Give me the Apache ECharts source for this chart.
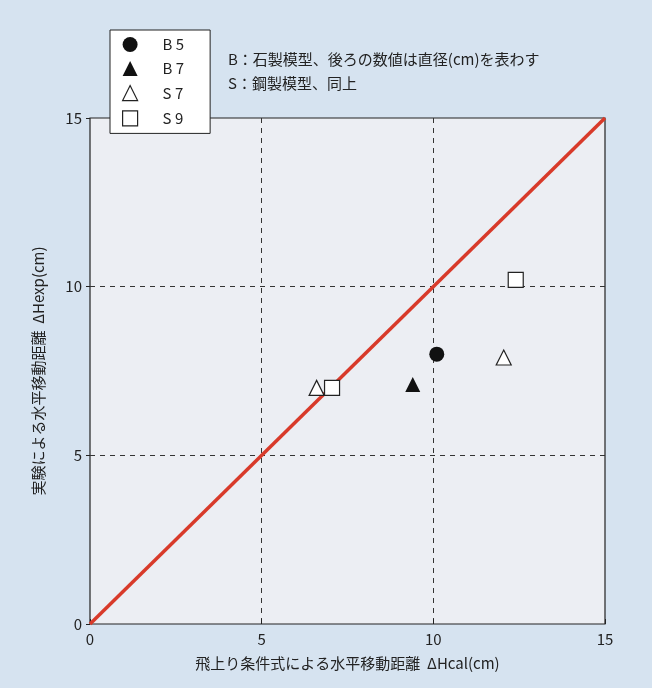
<!DOCTYPE html>
<html>
<head>
<meta charset="utf-8">
<script src="https://cdn.jsdelivr.net/npm/echarts@6/dist/echarts.min.js"></script>
<style>
html,body{margin:0;padding:0;background:#d6e3f0;}
#chart{width:652px;height:688px;}
</style>
</head>
<body>
<div id="chart"></div>
<script>
// 各データ (x: ΔHcal, y: ΔHexp)
var axisTicks = [0, 5, 10, 15];
var dataB5 = [[10.1, 8.0]];
var dataB7 = [[9.4, 7.1]];
var dataS7 = [[6.6, 7.0], [12.05, 7.9]];
var dataS9 = [[7.05, 7.0], [12.4, 10.2]];
var lineData = [[0, 0], [15, 15]];
var legendNames = ['B 5', 'B 7', 'S 7', 'S 9'];

var FONT = '"Noto Sans CJK JP", "Noto Sans", sans-serif';
var openStyle = {color: '#ffffff', borderColor: '#222', borderWidth: 1.2, opacity: 1};
var solidStyle = {color: '#111', opacity: 1};
var myChart = echarts.init(document.getElementById('chart'));
var option = {
	backgroundColor: '#d6e3f0',
	textStyle: {fontFamily: FONT},
	grid: {
		left: 90, right: 47, top: 118, bottom: 64,
		show: true,
		backgroundColor: '#eceef3',
		borderColor: '#222',
		borderWidth: 1.2
	},
	legend: {
		orient: 'vertical',
		left: 110, top: 30,
		backgroundColor: '#ffffff',
		borderColor: '#222',
		borderWidth: 1,
		borderRadius: 0,
		padding: [7, 26, 7, 12],
		itemWidth: 15, itemHeight: 15, itemGap: 9,
		textStyle: {fontSize: 15, color: '#222', fontFamily: FONT, padding: [0, 0, 0, 20]},
		data: [
			{name: legendNames[0], icon: 'circle', itemStyle: solidStyle},
			{name: legendNames[1], icon: 'triangle', itemStyle: solidStyle},
			{name: legendNames[2], icon: 'triangle', itemStyle: openStyle},
			{name: legendNames[3], icon: 'rect', itemStyle: openStyle}
		]
	},
	graphic: [
		{type: 'text', left: 228, top: 52, z: 10,
			style: {text: 'B：石製模型、後ろの数値は直径(cm)を表わす', fontSize: 15, fill: '#222', fontFamily: FONT}},
		{type: 'text', left: 228, top: 76, z: 10,
			style: {text: 'S：鋼製模型、同上', fontSize: 15, fill: '#222', fontFamily: FONT}}
	],
	xAxis: {
		type: 'value', min: axisTicks[0], max: axisTicks[3], interval: 5,
		name: '飛上り条件式による水平移動距離  ΔHcal(cm)',
		nameLocation: 'middle', nameGap: 32,
		nameTextStyle: {fontSize: 15, color: '#222'},
		axisLine: {show: false},
		axisTick: {show: true, inside: true, length: 5, lineStyle: {color: '#222'}},
		axisLabel: {fontSize: 15, color: '#222', margin: 8},
		splitLine: {show: true, showMinLine: false, showMaxLine: false,
			lineStyle: {color: '#333', type: [5, 5], width: 1}}
	},
	yAxis: {
		type: 'value', min: axisTicks[0], max: axisTicks[3], interval: 5,
		name: '実験による水平移動距離  ΔHexp(cm)',
		nameLocation: 'middle', nameGap: 44,
		nameTextStyle: {fontSize: 15, color: '#222'},
		axisLine: {show: false},
		axisTick: {show: true, inside: false, length: 4, lineStyle: {color: '#222'}},
		axisLabel: {fontSize: 15, color: '#222', margin: 8},
		splitLine: {show: true, showMinLine: false, showMaxLine: false,
			lineStyle: {color: '#333', type: [5, 5], width: 1}}
	},
	series: [
		{
			name: 'line', type: 'line', data: lineData,
			showSymbol: false, silent: true,
			lineStyle: {color: '#d83a2a', width: 3.5}, z: 3
		},
		{
			name: legendNames[0], type: 'scatter', data: dataB5,
			symbol: 'circle', symbolSize: 15,
			itemStyle: solidStyle, z: 4
		},
		{
			name: legendNames[1], type: 'scatter', data: dataB7,
			symbol: 'triangle', symbolSize: 15,
			itemStyle: solidStyle, z: 4
		},
		{
			name: legendNames[2], type: 'scatter', data: dataS7,
			symbol: 'triangle', symbolSize: 15,
			itemStyle: openStyle, z: 4
		},
		{
			name: legendNames[3], type: 'scatter', data: dataS9,
			symbol: 'rect', symbolSize: 15,
			itemStyle: openStyle, z: 4
		}
	]
};
// 使用刚指定的配置项和数据显示图表。
myChart.setOption(option);
</script>
</body>
</html>
